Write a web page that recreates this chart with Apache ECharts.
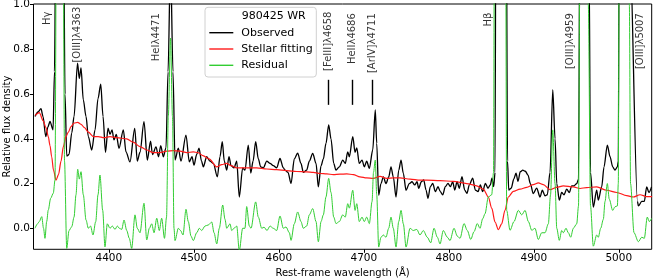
<!DOCTYPE html>
<html><head><meta charset="utf-8">
<script src="https://cdn.jsdelivr.net/npm/echarts@6/dist/echarts.min.js"></script>
<style>html,body{margin:0;padding:0;background:#fff}#c{width:654px;height:279px}</style>
</head><body><div id="c"></div>
<script>
// ---- data (rest-frame wavelength in Å, relative flux density) ----
const obsWave = [4313.2,4316.7,4320.2,4322.6,4325.8,4328.5,4330.8,4334.4,4336.1,4337.9,4342.0,4346.5,4348.5,4350.5,4353.2,4356.4,4359.1,4363.2,4365.3,4367.3,4370.0,4373.2,4375.9,4379.9,4383.8,4387.3,4390.5,4393.2,4396.1,4399.1,4401.4,4403.8,4406.1,4408.8,4412.0,4417.1,4420.2,4424.9,4430.5,4433.5,4436.7,4441.4,4445.3,4449.1,4451.4,4455.5,4458.5,4461.1,4464.1,4467.3,4469.7,4472.6,4475.5,4477.9,4481.8,4484.9,4490.8,4494.7,4497.9,4500.2,4503.4,4506.1,4509.1,4511.2,4515.2,4519.1,4523.0,4527.7,4530.8,4533.5,4535.9,4538.7,4541.4,4543.8,4547.3,4550.5,4553.5,4557.5,4560.2,4564.1,4567.0,4569.7,4572.8,4575.9,4578.7,4581.8,4585.8,4589.7,4593.5,4597.5,4601.4,4605.3,4607.3,4610.8,4614.4,4618.2,4622.2,4626.1,4628.8,4632.8,4635.9,4639.9,4643.8,4646.5,4649.7,4652.4,4655.5,4658.7,4661.4,4664.6,4667.3,4671.2,4675.2,4678.2,4681.1,4683.0,4687.0,4689.7,4691.7,4694.7,4697.9,4700.6,4703.4,4706.5,4710.5,4713.5,4715.2,4717.5,4720.2,4723.0,4726.1,4729.3,4732.0,4734.7,4737.9,4741.1,4743.8,4746.5,4749.7,4753.5,4756.7,4759.9,4762.6,4764.6,4767.7,4770.5,4773.2,4775.5,4778.3,4781.1,4784.1,4787.3,4790.0,4792.8,4795.9,4799.1,4801.8,4804.6,4807.0,4809.7,4812.4,4815.5,4818.7,4821.4,4824.1,4828.1,4831.2,4834.4,4837.1,4839.9,4843.0,4846.1,4848.8,4850.8,4852.8,4854.4,4855.5,4861.4,4867.3,4869.1,4870.5,4873.5,4876.4,4879.1,4881.4,4884.1,4887.0,4890.0,4893.2,4895.9,4899.4,4903.4,4907.3,4910.0,4913.2,4915.9,4919.1,4922.3,4925.0,4927.0,4930.0,4932.8,4935.5,4938.7,4941.8,4944.6,4947.3,4950.5,4952.6,4954.4,4959.1,4965.0,4966.7,4970.0,4974.0,4975.9,4979.9,4982.6,4986.5,4989.7,4992.8,4995.5,4998.3,4999.4,5000.9,5007.3,5012.6,5022.0,5023.0,5027.0,5030.0,5032.8,5035.5,5038.5];
const obsFlux = [0.50,0.52,0.535,0.50,0.41,0.455,0.478,0.44,0.70,1.50,3.00,1.50,0.60,0.323,0.33,0.426,0.50,0.738,0.67,0.717,0.574,0.50,0.41,0.35,0.44,0.58,0.645,0.50,0.34,0.448,0.42,0.44,0.395,0.42,0.358,0.44,0.342,0.297,0.447,0.30,0.34,0.477,0.305,0.39,0.33,0.364,0.32,0.37,0.32,0.36,0.70,1.20,0.70,0.305,0.358,0.30,0.417,0.297,0.32,0.282,0.33,0.358,0.30,0.275,0.32,0.30,0.29,0.23,0.32,0.387,0.30,0.26,0.32,0.28,0.27,0.30,0.14,0.27,0.26,0.372,0.247,0.30,0.387,0.31,0.275,0.27,0.30,0.29,0.28,0.27,0.312,0.27,0.26,0.25,0.20,0.31,0.336,0.29,0.25,0.26,0.30,0.335,0.29,0.185,0.28,0.31,0.38,0.462,0.40,0.29,0.26,0.275,0.305,0.29,0.342,0.32,0.41,0.34,0.36,0.29,0.305,0.275,0.30,0.268,0.35,0.529,0.38,0.148,0.20,0.23,0.20,0.23,0.275,0.23,0.14,0.26,0.305,0.245,0.17,0.20,0.208,0.194,0.208,0.179,0.208,0.216,0.171,0.134,0.186,0.201,0.164,0.186,0.164,0.149,0.186,0.201,0.186,0.208,0.171,0.208,0.179,0.231,0.171,0.156,0.194,0.224,0.171,0.164,0.194,0.164,0.201,0.179,0.194,0.224,0.186,0.25,1.80,3.50,1.80,0.30,0.171,0.18,0.22,0.246,0.21,0.253,0.26,0.255,0.238,0.20,0.155,0.18,0.14,0.17,0.145,0.15,0.25,0.62,0.40,0.20,0.126,0.16,0.15,0.175,0.16,0.19,0.19,0.20,0.22,1.50,4.00,1.20,0.25,0.095,0.171,0.126,0.186,0.275,0.372,0.32,0.275,0.26,0.275,0.30,2.00,5.00,1.30,0.12,0.10,0.12,0.12,0.185,0.16,0.185];

const fitWave = [4313.2,4318.2,4322.9,4326.1,4328.8,4330.8,4332.8,4334.9,4337.9,4340.8,4343.8,4346.5,4349.6,4352.4,4355.5,4359.1,4363.4,4367.3,4371.4,4375.9,4381.8,4387.6,4394.4,4401.4,4409.6,4421.1,4428.5,4436.7,4444.6,4452.4,4460.2,4468.1,4475.9,4483.8,4491.7,4499.4,4504.9,4510.8,4517.9,4527.0,4532.8,4538.7,4543.8,4550.5,4557.9,4566.1,4574.0,4585.8,4597.5,4609.3,4621.1,4632.8,4640.6,4648.5,4656.4,4664.1,4672.0,4679.9,4687.7,4695.5,4703.4,4711.2,4719.1,4727.0,4734.7,4742.6,4754.4,4766.1,4774.0,4789.7,4805.3,4821.1,4832.8,4840.6,4846.5,4850.5,4854.4,4858.3,4862.2,4866.1,4870.0,4875.9,4883.8,4891.7,4899.4,4905.3,4911.2,4919.1,4927.0,4934.7,4946.5,4954.4,4962.2,4974.0,4985.8,4997.6,5009.3,5017.1,5025.0,5032.8,5039.1];
const fitFlux = [0.505,0.517,0.48,0.45,0.41,0.37,0.32,0.26,0.215,0.24,0.30,0.365,0.41,0.43,0.455,0.47,0.474,0.465,0.45,0.43,0.41,0.41,0.405,0.41,0.405,0.40,0.385,0.365,0.35,0.338,0.338,0.345,0.347,0.345,0.338,0.342,0.338,0.325,0.31,0.275,0.285,0.29,0.28,0.27,0.27,0.27,0.27,0.265,0.262,0.258,0.254,0.252,0.25,0.245,0.243,0.24,0.242,0.243,0.24,0.23,0.225,0.223,0.232,0.223,0.225,0.225,0.22,0.215,0.215,0.213,0.21,0.20,0.19,0.175,0.14,0.09,0.028,-0.006,0.02,0.08,0.14,0.165,0.175,0.183,0.195,0.203,0.195,0.173,0.183,0.19,0.185,0.178,0.182,0.185,0.17,0.16,0.146,0.14,0.15,0.142,0.142];

const resWave = [4313.2,4316.1,4318.2,4321.1,4323.2,4324.9,4326.9,4328.8,4331.6,4334.7,4336.7,4338.5,4342.0,4346.1,4347.9,4350.5,4353.2,4356.4,4359.1,4361.4,4363.4,4365.3,4367.3,4370.0,4373.2,4375.9,4378.5,4381.4,4384.6,4387.3,4389.6,4392.8,4395.5,4398.2,4401.4,4404.1,4407.3,4410.0,4412.4,4415.2,4417.9,4421.1,4424.1,4426.9,4430.8,4433.5,4436.7,4441.4,4444.6,4447.7,4450.5,4453.2,4456.4,4459.4,4462.2,4465.5,4467.9,4470.0,4472.6,4474.9,4476.7,4477.9,4481.8,4484.4,4487.3,4490.8,4493.5,4496.7,4499.4,4503.4,4506.5,4509.3,4513.2,4517.1,4521.1,4523.8,4527.0,4530.0,4534.0,4536.7,4538.7,4542.6,4544.6,4547.3,4550.5,4553.5,4557.5,4560.2,4562.2,4565.3,4567.3,4572.8,4575.9,4579.9,4582.6,4586.1,4589.7,4593.5,4597.5,4601.4,4605.3,4608.5,4612.4,4614.4,4618.2,4622.2,4626.1,4628.8,4632.8,4635.9,4639.9,4643.8,4646.5,4649.7,4652.4,4655.5,4658.7,4661.4,4664.6,4667.3,4671.2,4675.2,4678.2,4681.1,4683.0,4687.0,4689.7,4691.7,4694.7,4697.9,4700.6,4703.4,4706.5,4709.7,4711.4,4713.5,4715.2,4717.5,4720.2,4723.0,4726.1,4729.3,4732.0,4734.7,4737.9,4741.1,4743.8,4746.5,4749.7,4754.4,4758.2,4762.3,4766.1,4770.0,4774.7,4778.7,4782.6,4786.5,4789.7,4793.5,4798.3,4801.4,4806.1,4810.0,4813.2,4817.9,4821.8,4825.8,4829.7,4833.5,4836.7,4839.9,4842.6,4846.5,4850.5,4852.6,4853.8,4861.4,4866.7,4868.1,4872.0,4876.7,4881.8,4885.8,4889.7,4893.6,4897.6,4901.4,4905.3,4909.3,4913.2,4917.1,4919.7,4922.3,4925.0,4927.0,4930.0,4932.8,4934.7,4937.9,4940.6,4943.4,4946.5,4950.5,4952.6,4954.4,4959.1,4964.1,4966.7,4970.0,4974.0,4975.9,4978.7,4981.8,4983.8,4986.5,4988.8,4992.8,4995.5,4998.3,4999.4,5000.6,5007.3,5012.4,5013.8,5017.9,5023.0,5027.0,5030.0,5033.5,5035.9,5038.7];
const resFlux = [0.0,0.02,0.03,0.052,0.0,-0.045,0.03,0.082,0.134,0.157,0.216,1.5,3.0,1.5,0.3,-0.09,-0.01,0.007,0.05,0.15,0.264,0.22,0.253,0.15,0.037,0.0,0.01,-0.03,0.03,0.15,0.238,0.08,-0.083,0.02,0.0,0.01,-0.005,0.01,0.0,-0.005,0.037,-0.01,-0.045,-0.09,0.06,0.0,-0.02,0.112,-0.052,0.0,0.02,-0.02,0.045,-0.01,0.045,-0.045,0.05,0.5,0.85,0.5,0.0,-0.055,0.0,-0.01,-0.03,0.085,0.03,-0.035,-0.055,-0.02,0.0,-0.01,0.01,0.015,0.028,-0.02,-0.07,0.0,0.104,0.04,0.0,0.02,-0.01,0.0,0.01,-0.1,0.0,0.0,0.097,0.01,0.0,0.118,0.05,0.0,0.005,-0.01,0.01,0.0,-0.01,0.055,0.0,0.006,-0.02,-0.054,0.02,0.073,0.03,0.0,0.01,0.06,0.088,0.03,-0.06,0.03,0.06,0.14,0.223,0.16,0.05,0.021,0.03,0.06,0.05,0.11,0.09,0.17,0.08,0.11,0.03,0.05,0.03,0.05,0.021,0.12,0.25,0.305,0.15,-0.084,-0.04,-0.03,-0.04,0.0,0.05,0.0,-0.084,0.03,0.08,0.02,-0.084,0.0,-0.01,-0.005,-0.03,-0.01,-0.04,-0.065,0.0,-0.04,-0.07,-0.01,-0.04,-0.055,0.0,-0.035,-0.045,0.021,-0.01,-0.05,-0.015,0.021,0.0,0.043,0.065,0.14,0.15,0.25,1.5,3.0,1.5,0.08,-0.009,0.03,0.08,0.06,0.08,0.03,-0.009,0.0,-0.05,-0.02,-0.02,0.02,0.15,0.44,0.2,0.0,-0.054,-0.01,-0.02,0.0,-0.02,-0.04,0.0,0.02,0.1,1.5,4.0,1.0,0.1,-0.08,-0.03,-0.04,0.0,0.04,0.12,0.2,0.13,0.08,0.096,0.1,0.2,1.5,5.0,1.0,0.2,-0.02,-0.06,-0.04,-0.045,0.05,0.03,0.045];

const xTicks = [4400, 4500, 4600, 4700, 4800, 4900, 5000];
const yTicks = [0.0, 0.2, 0.4, 0.6, 0.8, 1.0];

const lineNames = ['Hγ', '[OIII]λ4363', 'HeIλ4471', '[FeIII]λ4658', 'HeIIλ4686', '[ArIV]λ4711', 'Hβ', '[OIII]λ4959', '[OIII]λ5007'];
const lineLabelWave = [4327.3, 4362.9, 4456.4, 4658.2, 4686.5, 4710.5, 4846.5, 4943.4, 5025.0];
const lineLabelTop = [0.969, 0.991, 0.962, 0.969, 0.962, 0.962, 0.965, 0.962, 0.962];
const markerWave = [4658.2, 4686.5, 4710.5];
const markerRange = [0.552, 0.664];

// ---- chart ----
const FONT = 'DejaVu Sans';
const zip = (xs, ys) => xs.map((x, i) => [x, ys[i]]);
const chart = echarts.init(document.getElementById('c'), null, {renderer: 'canvas'});

const lineSeries = (name, xs, ys, color, width) => ({
  type: 'line', name, data: zip(xs, ys), symbol: 'none', showSymbol: false,
  smooth: 0.3, smoothMonotone: 'x', clip: true,
  lineStyle: {color, width}, itemStyle: {color}, emphasis: {disabled: true}
});

chart.setOption({
  animation: false,
  backgroundColor: '#fff',
  grid: {left: 33.5, right: 2.3, top: 4, bottom: 29.7, containLabel: false, outerBoundsMode: 'none',
    show: true, borderColor: '#000', borderWidth: 1, backgroundColor: 'transparent'},
  xAxis: {
    type: 'value', min: 4311.4, max: 5038.7,
    splitLine: {show: false},
    axisLine: {show: false, onZero: false},
    axisTick: {show: true, length: 3.5, lineStyle: {color: '#000'}, customValues: xTicks},
    axisLabel: {customValues: xTicks, fontSize: 10.5, color: '#000', fontFamily: FONT, margin: 3.5, formatter: v => String(v)},
    name: 'Rest-frame wavelength (Å)', nameLocation: 'middle', nameGap: 17,
    nameTextStyle: {fontSize: 10, fontFamily: FONT, color: '#000'}
  },
  yAxis: {
    type: 'value', min: -0.094, max: 1.003,
    splitLine: {show: false},
    axisLine: {show: false, onZero: false},
    axisTick: {show: true, length: 3.5, lineStyle: {color: '#000'}, customValues: yTicks},
    axisLabel: {customValues: yTicks, fontSize: 10.5, color: '#000', fontFamily: FONT, margin: 3.5, formatter: v => v.toFixed(1)},
    name: 'Relative flux density', nameLocation: 'middle', nameGap: 21, nameMoveOverlap: false,
    nameTextStyle: {fontSize: 10, fontFamily: FONT, color: '#000'}
  },
  legend: {
    data: ['Observed', 'Stellar fitting', 'Residual'],
    orient: 'vertical', left: 205, top: 7.3,
    padding: [18.4, 3.5, 4.7, 4.3],
    icon: 'rect', itemWidth: 24, itemHeight: 1.4, itemGap: 2.3,
    backgroundColor: 'rgba(255,255,255,0.85)', borderColor: '#d0d0d0', borderWidth: 1, borderRadius: 3,
    textStyle: {fontSize: 11, lineHeight: 14, fontFamily: FONT, color: '#000', padding: [0, 0, 0, 3]},
    selectedMode: false
  },
  graphic: [{type: 'text', left: 241.7, top: 10.2, z: 100,
    style: {text: '980425 WR', fontSize: 11, fontFamily: FONT, fill: '#000'}}],
  series: [
    lineSeries('Observed', obsWave, obsFlux, '#000000', 1.3),
    lineSeries('Stellar fitting', fitWave, fitFlux, '#ff1a1a', 1.2),
    lineSeries('Residual', resWave, resFlux, '#32cd32', 1.0),
    {
      type: 'scatter', name: 'lines', silent: true,
      data: lineLabelWave.map((x, i) => [x, lineLabelTop[i], lineNames[i]]),
      symbolSize: 1, itemStyle: {color: 'rgba(0,0,0,0)'},
      label: {show: true, formatter: p => p.data[2], rotate: 90, position: 'inside',
        align: 'right', verticalAlign: 'middle', fontSize: 10, fontFamily: FONT, color: '#000'},
      markLine: {silent: true, symbol: ['none', 'none'], label: {show: false},
        lineStyle: {color: '#000', width: 1.4, type: 'solid'},
        data: markerWave.map(x => [{coord: [x, markerRange[0]]}, {coord: [x, markerRange[1]]}])}
    }
  ]
});
</script></body></html>
